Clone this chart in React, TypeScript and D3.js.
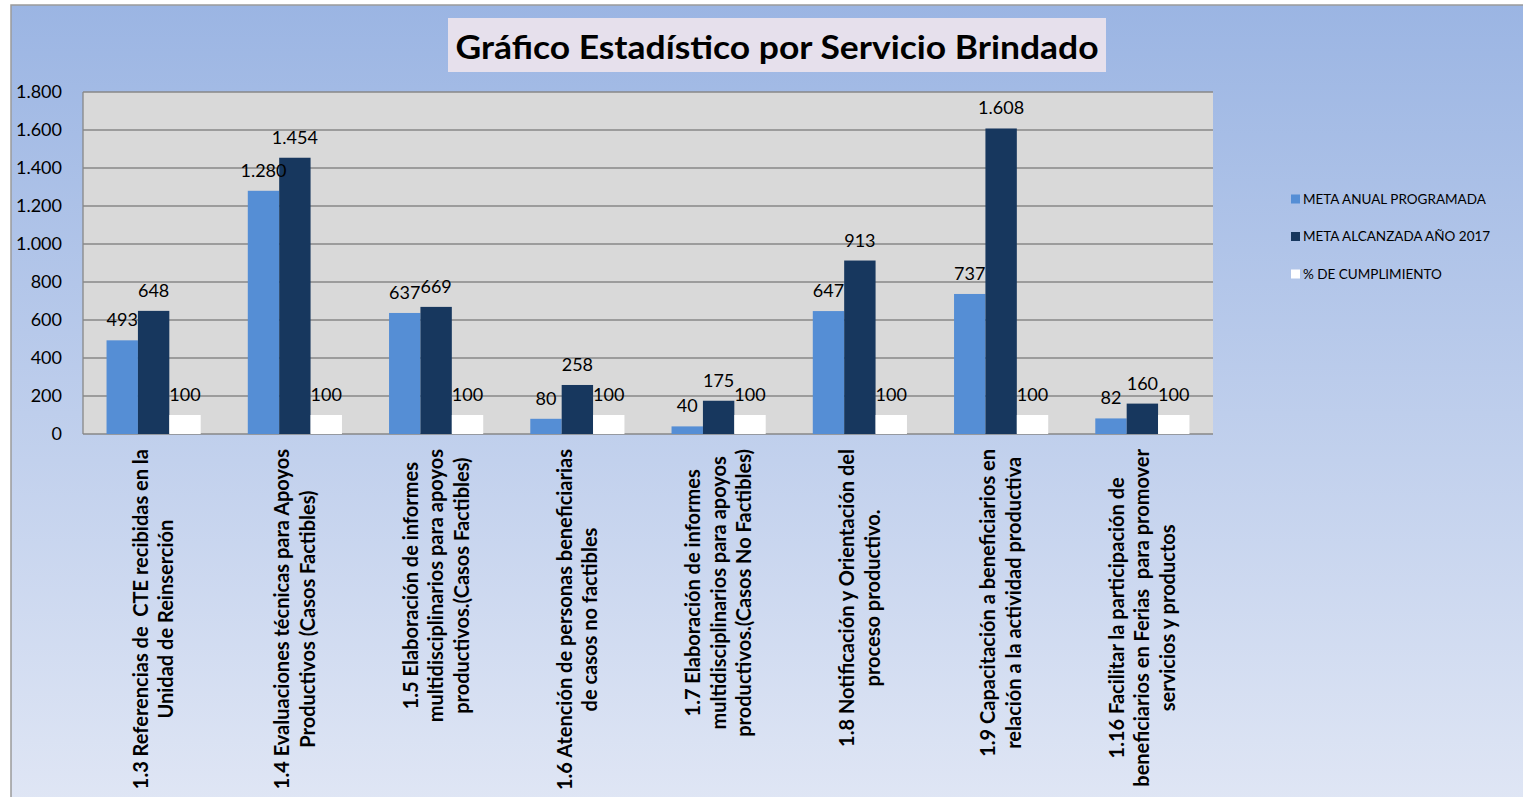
import React, { useEffect, useRef } from "react";
import * as d3 from "d3";

const categories: string[][] = [
  ["1.3 Referencias de  CTE recibidas en la", "Unidad de Reinserción"],
  ["1.4 Evaluaciones técnicas para Apoyos", "Productivos (Casos Factibles)"],
  ["1.5 Elaboración de informes", "multidisciplinarios para apoyos", "productivos.(Casos Factibles)"],
  ["1.6 Atención de personas beneficiarias", "de casos no factibles"],
  ["1.7 Elaboración de informes", "multidisciplinarios para apoyos", "productivos.(Casos No Factibles)"],
  ["1.8 Notificación y Orientación del", "proceso productivo."],
  ["1.9 Capacitación a beneficiarios en", "relación a la actividad productiva"],
  ["1.16 Facilitar la participación de", "beneficiarios en Ferias  para promover", "servicios y productos"],
];

const seriesNames = ["META ANUAL PROGRAMADA", "META ALCANZADA AÑO 2017", "% DE CUMPLIMIENTO"];
const metaAnual = [493, 1280, 637, 80, 40, 647, 737, 82];
const metaAlcanzada = [648, 1454, 669, 258, 175, 913, 1608, 160];
const cumplimiento = [100, 100, 100, 100, 100, 100, 100, 100];
const yTicks = [0, 200, 400, 600, 800, 1000, 1200, 1400, 1600, 1800];
const title = "Gráfico Estadístico por Servicio Brindado";
const seriesColors = ["#558ed5", "#17375e", "#ffffff"];

const W = 1523;
const H = 797;

export default function App() {
  const ref = useRef<SVGSVGElement | null>(null);

  useEffect(() => {
    const svg = d3.select(ref.current);
    svg.selectAll("*").remove();

    const defs = svg.append("defs");
    const grad = defs
      .append("linearGradient")
      .attr("id", "bg")
      .attr("x1", 0)
      .attr("y1", 0)
      .attr("x2", 0)
      .attr("y2", 1);
    grad.append("stop").attr("offset", "0%").attr("stop-color", "#9bb5e3");
    grad.append("stop").attr("offset", "100%").attr("stop-color", "#e1e7f5");

    svg.append("rect").attr("x", 0).attr("y", 0).attr("width", W).attr("height", H).attr("fill", "#ffffff");
    svg
      .append("rect")
      .attr("x", 11)
      .attr("y", 5)
      .attr("width", W + 20)
      .attr("height", H + 20)
      .attr("fill", "url(#bg)")
      .attr("stroke", "#9a9a9a")
      .attr("stroke-width", 1.5);

    // title
    svg
      .append("rect")
      .attr("x", 448)
      .attr("y", 18)
      .attr("width", 658)
      .attr("height", 54)
      .attr("fill", "#e6e0ec");
    svg
      .append("text")
      .attr("x", 777)
      .attr("y", 59)
      .attr("text-anchor", "middle")
      .attr("font-family", "Lato, 'Liberation Sans', sans-serif")
      .attr("font-weight", "bold")
      .attr("font-size", 33)
      .attr("fill", "#000")
      .attr("textLength", 643)
      .attr("lengthAdjust", "spacingAndGlyphs")
      .text(title);

    const left = 83,
      right = 1213,
      top = 92,
      bottom = 434;

    const y = d3.scaleLinear().domain([0, 1800]).range([bottom, top]);
    const x0 = d3
      .scaleBand<number>()
      .domain(d3.range(categories.length))
      .range([left, right])
      .padding(0);
    const x1 = d3
      .scaleBand<number>()
      .domain([0, 1, 2])
      .range([0, x0.bandwidth()])
      .paddingInner(0)
      .paddingOuter(0.75);

    const g = svg.append("g");
    g.append("rect")
      .attr("x", left)
      .attr("y", top)
      .attr("width", right - left)
      .attr("height", bottom - top)
      .attr("fill", "#d9d9d9");

    // gridlines
    g.selectAll("line.grid")
      .data(yTicks)
      .enter()
      .append("line")
      .attr("x1", left)
      .attr("x2", right)
      .attr("y1", (d) => y(d))
      .attr("y2", (d) => y(d))
      .attr("stroke", "#878787")
      .attr("stroke-width", 1.3);
    g.append("line")
      .attr("x1", left)
      .attr("x2", left)
      .attr("y1", top)
      .attr("y2", bottom)
      .attr("stroke", "#878787")
      .attr("stroke-width", 1.3);

    // y tick labels
    const fmt = (v: number) => d3.format(",")(v).replace(/,/g, ".");
    g.selectAll("text.ytick")
      .data(yTicks)
      .enter()
      .append("text")
      .attr("x", 62)
      .attr("y", (d) => y(d))
      .attr("dy", "0.35em")
      .attr("text-anchor", "end")
      .attr("font-family", "Lato, 'Liberation Sans', sans-serif")
      .attr("font-size", 18)
      .attr("fill", "#000")
      .text((d) => fmt(d));

    const series = [metaAnual, metaAlcanzada, cumplimiento];
    series.forEach((vals, si) => {
      g.selectAll(`rect.s${si}`)
        .data(vals)
        .enter()
        .append("rect")
        .attr("x", (_, i) => (x0(i) as number) + (x1(si) as number))
        .attr("y", (d) => y(d))
        .attr("width", x1.bandwidth())
        .attr("height", (d) => bottom - y(d))
        .attr("fill", seriesColors[si]);
    });
    series.forEach((vals, si) => {
      g.selectAll(`text.l${si}`)
        .data(vals)
        .enter()
        .append("text")
        .attr("x", (_, i) => (x0(i) as number) + (x1(si) as number) + x1.bandwidth() / 2)
        .attr("y", (d) => y(d) - 14)
        .attr("text-anchor", "middle")
        .attr("font-family", "Lato, 'Liberation Sans', sans-serif")
        .attr("font-size", 18)
        .attr("fill", "#000")
        .text((d) => fmt(d));
    });

    // category labels
    const lineGap = 25.5;
    categories.forEach((lines, i) => {
      const cx = (x0(i) as number) + x0.bandwidth() / 2;
      const grp = svg.append("g");
      const texts = lines.map((ln) =>
        grp
          .append("text")
          .attr("text-anchor", "middle")
          .attr("font-family", "Lato, 'Liberation Sans', sans-serif")
          .attr("font-weight", "bold")
          .attr("font-size", 20)
          .attr("fill", "#000")
          .attr("xml:space", "preserve")
          .style("white-space", "pre")
          .text(ln)
      );
      const maxLen = d3.max(texts, (t) => (t.node() as SVGTextElement).getComputedTextLength()) || 0;
      const cy = 449 + maxLen / 2;
      const n = lines.length;
      texts.forEach((t, li) => {
        const lx = cx + (li - (n - 1) / 2) * lineGap;
        t.attr("transform", `translate(${lx + 7},${cy}) rotate(-90)`);
      });
    });

    // legend
    const lg = svg.append("g");
    seriesNames.forEach((name, si) => {
      const ly = 199 + si * 37.5;
      lg.append("rect")
        .attr("x", 1291)
        .attr("y", ly - 4.5)
        .attr("width", 9)
        .attr("height", 9)
        .attr("fill", seriesColors[si]);
      lg.append("text")
        .attr("x", 1303)
        .attr("y", ly)
        .attr("dy", "0.35em")
        .attr("font-family", "Lato, 'Liberation Sans', sans-serif")
        .attr("font-size", 13.5)
        .attr("fill", "#000")
        .text(name);
    });
  }, []);

  return (
    <svg
      ref={ref}
      width={W}
      height={H}
      style={{ position: "absolute", left: 0, top: 0, display: "block" }}
    />
  );
}
